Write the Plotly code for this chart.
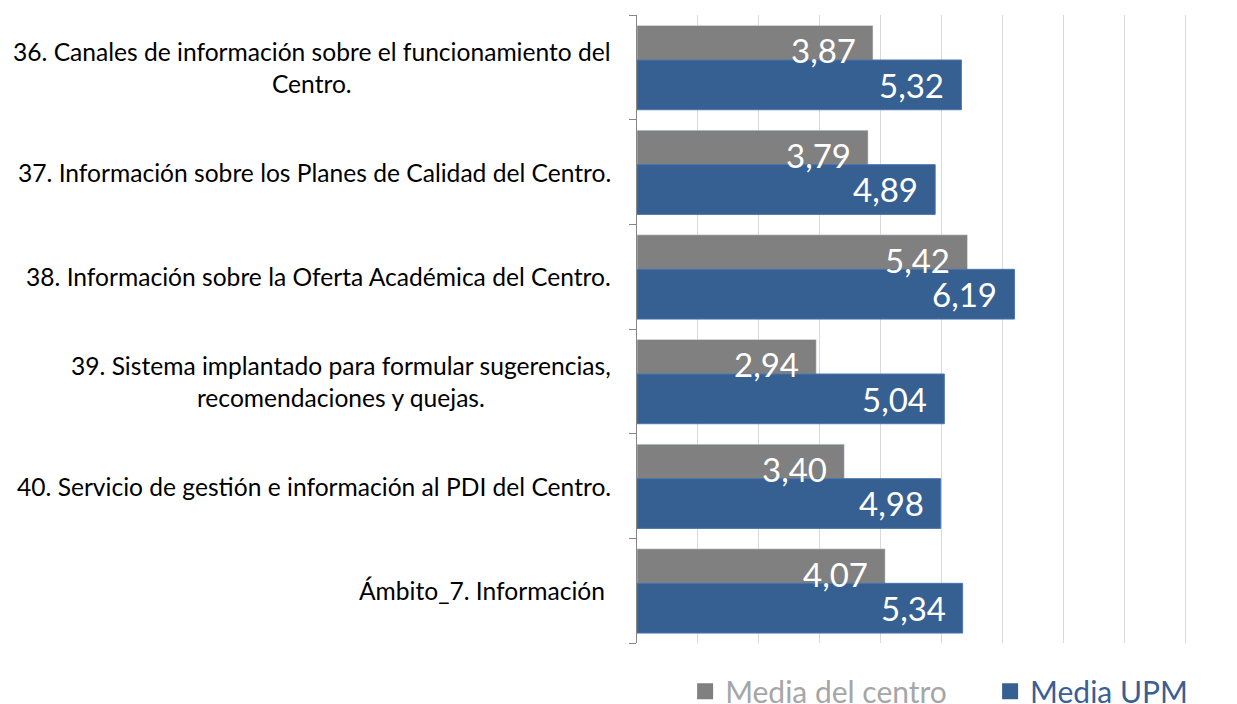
import plotly.graph_objs as go

categorias = [
    "36. Canales de información sobre el funcionamiento del<br>Centro.",
    "37. Información sobre los Planes de Calidad del Centro.",
    "38. Información sobre la Oferta Académica del Centro.",
    "39. Sistema implantado para formular sugerencias,<br>recomendaciones y quejas.",
    "40. Servicio de gestión e información al PDI del Centro.",
    "Ámbito_7. Información ",
]
media_centro = [3.87, 3.79, 5.42, 2.94, 3.40, 4.07]
media_upm = [5.32, 4.89, 6.19, 5.04, 4.98, 5.34]

gris = '#808080'
azul = '#376092'
fuente = 'Lato, Open Sans, sans-serif'

def fmt(v):
    return ('%.2f' % v).replace('.', ',')

pos = list(range(len(categorias)))

fig = go.Figure()
fig.add_trace(go.Bar(
    y=pos, x=media_centro, orientation='h', showlegend=False,
    marker=dict(color=gris),
    offset=-0.40, width=0.475,
))
fig.add_trace(go.Bar(
    y=pos, x=media_upm, orientation='h', showlegend=False,
    marker=dict(color=azul, line=dict(color='#4a76ad', width=1)),
    offset=-0.07, width=0.475,
))
# legend entries with bigger square symbols, one legend box each so they can be spaced like the original
fig.add_trace(go.Scatter(
    x=[None], y=[None], mode='markers', legend='legend',
    name='<span style="color:#a6a6a6">Media del centro</span>',
    marker=dict(symbol='square', size=17, color=gris),
))
fig.add_trace(go.Scatter(
    x=[None], y=[None], mode='markers', legend='legend2',
    name='<span style="color:#3a5f94">Media UPM</span>',
    marker=dict(symbol='square', size=17, color=azul),
))

annotations = []
# value labels drawn on top of both bars
for i, v in enumerate(media_centro):
    annotations.append(dict(x=v, y=i - 0.163, xref='x', yref='y', text=fmt(v),
                            showarrow=False, xanchor='right', yanchor='middle', xshift=-15,
                            font=dict(family=fuente, size=33, color='white')))
for i, v in enumerate(media_upm):
    annotations.append(dict(x=v, y=i + 0.167, xref='x', yref='y', text=fmt(v),
                            showarrow=False, xanchor='right', yanchor='middle', xshift=-15,
                            font=dict(family=fuente, size=33, color='white')))
# category labels, centred text like the original
for i, c in enumerate(categorias):
    annotations.append(dict(x=0, y=i, xref='paper', yref='y', text=c,
                            showarrow=False, xanchor='right', yanchor='middle', xshift=-24,
                            align='center',
                            font=dict(family=fuente, size=24.6, color='#000000')))

leg = dict(orientation='h', y=-0.077, xanchor='left', yanchor='middle',
           font=dict(family=fuente, size=30), itemwidth=30, bgcolor='rgba(0,0,0,0)')

# page body has an 8px margin, so the figure is 8px smaller on each side
layout = dict(
    width=1229, height=696,
    margin=dict(l=629, r=50, t=7, b=61, autoexpand=False),
    paper_bgcolor='white', plot_bgcolor='white',
    barmode='overlay',
    showlegend=True,
    legend=dict(leg, x=0.0875),
    legend2=dict(leg, x=0.642),
    xaxis=dict(range=[0, 9.02], showticklabels=False, showgrid=True, gridcolor='#d9d9d9',
               gridwidth=1, zeroline=False, showline=False, dtick=1, tick0=0, fixedrange=True),
    yaxis=dict(range=[len(categorias) - 0.5, -0.5], showticklabels=False, showgrid=False,
               zeroline=False, showline=True, linecolor='#868686', linewidth=1,
               ticks='outside', ticklen=7, tickcolor='#868686',
               tickvals=[i - 0.5 for i in range(len(categorias) + 1)]),
    annotations=annotations,
)

fig.update_layout(layout)
fig.write_html("out.html")
